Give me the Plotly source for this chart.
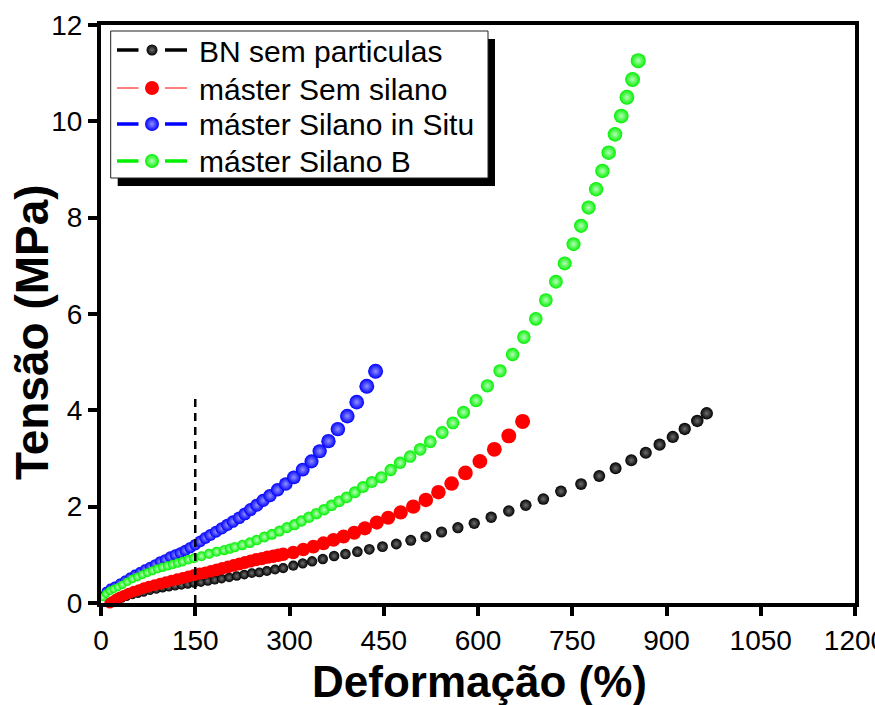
import plotly.graph_objects as go

# ---- data: strain (%) and stress (MPa) for each compound ----
bn_strain = [16, 20, 26, 33, 41, 50, 59, 68, 78, 88, 98, 108, 118, 128, 138, 148,
             159, 170, 181, 192, 204, 216, 228, 240, 252, 264, 277, 290, 306, 321,
             336, 353, 371, 389, 408, 427, 448, 470, 493, 517, 542, 568, 594, 621,
             649, 676, 704, 732, 764, 793, 819, 844, 867, 889, 910, 929, 949, 964]
bn_stress = [0.00, 0.02, 0.05, 0.09, 0.13, 0.165, 0.19, 0.22, 0.255, 0.28, 0.31, 0.33,
             0.35, 0.37, 0.39, 0.41, 0.43, 0.455, 0.48, 0.505, 0.53, 0.56, 0.59, 0.62,
             0.635, 0.665, 0.695, 0.725, 0.775, 0.824, 0.866, 0.914, 0.976, 1.017,
             1.065, 1.115, 1.169, 1.225, 1.302, 1.377, 1.474, 1.563, 1.654, 1.779,
             1.910, 2.029, 2.159, 2.318, 2.470, 2.637, 2.796, 2.962, 3.120, 3.287,
             3.447, 3.613, 3.779, 3.938]

sem_strain = [14, 18, 24, 30, 37, 44, 52, 60, 68, 76, 85, 94, 103, 112, 121, 130,
              139, 148, 157, 166, 175, 184, 193, 202, 211, 220, 229, 238, 247, 256,
              265, 274, 282, 290, 306, 322, 338, 354, 370, 386, 403, 420, 439, 457,
              477, 497, 517, 537, 558, 580, 603, 626, 649, 671]
sem_stress = [0.00, 0.03, 0.08, 0.12, 0.16, 0.20, 0.24, 0.27, 0.31, 0.34, 0.37, 0.40,
              0.43, 0.46, 0.49, 0.52, 0.55, 0.58, 0.61, 0.63, 0.66, 0.69, 0.72, 0.75,
              0.78, 0.81, 0.84, 0.87, 0.90, 0.92, 0.95, 0.97, 0.99, 1.01, 1.05, 1.11,
              1.17, 1.24, 1.31, 1.38, 1.46, 1.55, 1.67, 1.77, 1.88, 2.00, 2.14, 2.30,
              2.48, 2.70, 2.94, 3.19, 3.47, 3.77]

situ_strain = [2, 8, 15, 22, 30, 38, 46, 54, 62, 70, 78, 86, 94, 102, 110, 118, 126,
               134, 142, 150, 158, 166, 174, 183, 192, 201, 210, 220, 229, 238, 248,
               258, 269, 281, 294, 307, 321, 335, 348, 362, 377, 392, 407, 423, 437]
situ_stress = [0.14, 0.24, 0.31, 0.35, 0.41, 0.47, 0.53, 0.59, 0.64, 0.70, 0.75, 0.80,
               0.86, 0.90, 0.96, 1.00, 1.04, 1.09, 1.15, 1.21, 1.28, 1.35, 1.41, 1.48,
               1.55, 1.62, 1.69, 1.77, 1.85, 1.94, 2.03, 2.13, 2.23, 2.35, 2.47, 2.61,
               2.77, 2.94, 3.15, 3.36, 3.61, 3.88, 4.17, 4.50, 4.81]

silb_strain = [3, 8, 14, 20, 27, 34, 42, 50, 58, 66, 74, 82, 90, 98, 106, 114, 122,
               130, 139, 148, 160, 172, 184, 196, 205, 213, 225, 237, 248, 260, 272,
               284, 296, 308, 319, 331, 343, 355, 367, 379, 391, 404, 417, 431, 446,
               461, 476, 492, 508, 524, 543, 560, 577, 597, 615, 635, 655, 673, 692,
               708, 724, 738, 752, 764, 776, 788, 798, 808, 818, 828, 837, 846, 855]
silb_stress = [0.12, 0.19, 0.25, 0.29, 0.33, 0.38, 0.44, 0.50, 0.54, 0.59, 0.63, 0.67,
               0.71, 0.74, 0.77, 0.80, 0.83, 0.86, 0.90, 0.93, 0.97, 1.02, 1.065, 1.10,
               1.13, 1.16, 1.204, 1.253, 1.308, 1.370, 1.426, 1.494, 1.564, 1.626,
               1.702, 1.779, 1.855, 1.937, 2.027, 2.110, 2.194, 2.298, 2.408, 2.512,
               2.61, 2.76, 2.91, 3.04, 3.19, 3.35, 3.54, 3.74, 3.96, 4.20, 4.51, 4.82,
               5.16, 5.52, 5.90, 6.29, 6.67, 7.05, 7.45, 7.83, 8.21, 8.59, 8.97, 9.35,
               9.73, 10.11, 10.50, 10.87, 11.26]

series_names = ["BN sem particulas", "máster Sem silano",
                "máster Silano in Situ", "máster Silano B"]

x_ticks = [0, 150, 300, 450, 600, 750, 900, 1050, 1200]
y_ticks = [0, 2, 4, 6, 8, 10, 12]

# reference strain marked by the dashed line
mark_strain = 150
mark_top = 4.25

# ---- styling ----
FONT = "Arial, Liberation Sans, sans-serif"
W, H = 875, 705
ML, MR, MT, MB = 101, 20, 25, 102
PW, PH = W - ML - MR, H - MT - MB


def fx(px):
    return (px - ML) / PW


def fy(py):
    return (H - MB - py) / PH


styles = [
    # edge colour, highlight colour, start/end marker size, legend line width
    dict(color="#000000", glow="#6e6e6e", s0=8, s1=12.5, lw=3.5, lsize=11),
    dict(color="#ff0000", glow="#ff0000", s0=11, s1=15, lw=1, lsize=14),
    dict(color="#0000ff", glow="#9090ff", s0=9, s1=15, lw=3.5, lsize=14),
    dict(color="#00f000", glow="#b8ffb8", s0=8, s1=15, lw=3.5, lsize=14),
]

data = [(bn_strain, bn_stress), (sem_strain, sem_stress),
        (situ_strain, situ_stress), (silb_strain, silb_stress)]


def ramp(n, s0, s1):
    if n == 1:
        return [s1]
    return [s0 + (s1 - s0) * i / (n - 1) for i in range(n)]


fig = go.Figure()
for (xs, ys), name, st in zip(data, series_names, styles):
    fig.add_trace(go.Scatter(
        x=xs, y=ys, mode="markers", name=name, showlegend=False,
        cliponaxis=False,
        marker=dict(color=st["color"], size=ramp(len(xs), st["s0"], st["s1"]),
                    opacity=1, line=dict(width=0),
                    gradient=dict(type="radial", color=st["glow"])),
    ))

# ---- hand-built legend with drop shadow ----
box = dict(x0=110.7, x1=488, y0=31, y1=178)
shadow_dx, shadow_dy = 7, 8
shapes = [
    dict(type="rect", xref="paper", yref="paper", layer="below",
         x0=fx(box["x0"] + shadow_dx), x1=fx(box["x1"] + shadow_dx),
         y0=fy(box["y1"] + shadow_dy), y1=fy(box["y0"] + shadow_dy),
         fillcolor="black", line=dict(width=0)),
    dict(type="rect", xref="paper", yref="paper", layer="below",
         x0=fx(box["x0"]), x1=fx(box["x1"]), y0=fy(box["y1"]), y1=fy(box["y0"]),
         fillcolor="white", line=dict(color="#222222", width=1)),
]
row_py = [50, 88, 124, 161]
seg_left = (117, 138.5)
seg_right = (165, 187)
sym_px = 152
text_px = 197
annotations = []
for name, st, py in zip(series_names, styles, row_py):
    for a, b in (seg_left, seg_right):
        shapes.append(dict(type="line", xref="paper", yref="paper", layer="below",
                           x0=fx(a), x1=fx(b), y0=fy(py), y1=fy(py),
                           line=dict(color=st["color"], width=st["lw"])))
    annotations.append(dict(x=fx(text_px), y=fy(py + 1), xref="paper", yref="paper",
                            text=name, showarrow=False, xanchor="left",
                            yanchor="middle",
                            font=dict(family=FONT, size=30, color="black")))

fig.add_trace(go.Scatter(
    x=[fx(sym_px)] * 4, y=[fy(p) for p in row_py], xaxis="x2", yaxis="y2",
    mode="markers", showlegend=False, hoverinfo="skip",
    marker=dict(color=[s["color"] for s in styles], opacity=1,
                size=[s["lsize"] for s in styles], line=dict(width=0),
                gradient=dict(type="radial", color=[s["glow"] for s in styles])),
))

# dashed marker line at the reference strain
shapes.append(dict(type="line", xref="x", yref="y", layer="above",
                   x0=mark_strain, x1=mark_strain, y0=0, y1=mark_top,
                   line=dict(color="black", width=2.5, dash="8px,6px")))

# axis titles
annotations.append(dict(x=fx(479), y=fy(681), xref="paper", yref="paper",
                        text="<b>Deformação (%)</b>", showarrow=False,
                        xanchor="center", yanchor="middle",
                        font=dict(family=FONT, size=44, color="black")))
annotations.append(dict(x=fx(32), y=fy(332), xref="paper", yref="paper",
                        text="<b>Tensão (MPa)</b>", showarrow=False, textangle=-90,
                        xanchor="center", yanchor="middle",
                        font=dict(family=FONT, size=46, color="black")))

axis_common = dict(showline=True, linecolor="black", linewidth=4, mirror=True,
                   ticks="outside", ticklen=9, tickwidth=4, tickcolor="black",
                   showgrid=False, zeroline=False, automargin=False,
                   ticklabeloverflow="allow",
                   tickfont=dict(family=FONT, size=28, color="black"))

fig.update_layout(
    width=W, height=H,
    margin=dict(l=ML, r=MR, t=MT, b=MB),
    paper_bgcolor="white", plot_bgcolor="white",
    showlegend=False,
    xaxis=dict(range=[0, 1200], tickvals=x_ticks,
               ticktext=[str(v) for v in x_ticks], **axis_common),
    yaxis=dict(range=[0, 12], tickvals=y_ticks,
               ticktext=[str(v) for v in y_ticks], **axis_common),
    xaxis2=dict(overlaying="x", range=[0, 1], visible=False, fixedrange=True),
    yaxis2=dict(overlaying="y", range=[0, 1], visible=False, fixedrange=True),
    shapes=shapes,
    annotations=annotations,
)

fig.write_html("out.html")
